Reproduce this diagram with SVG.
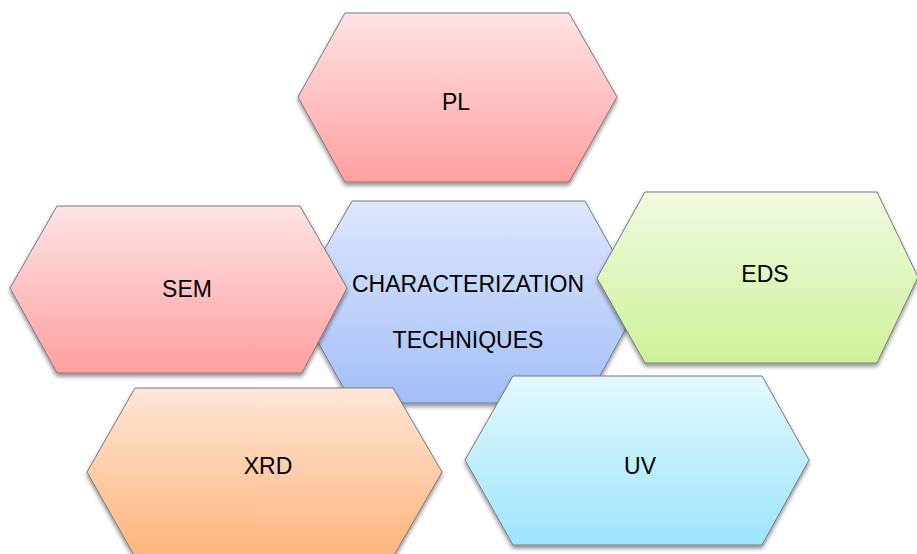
<svg xmlns="http://www.w3.org/2000/svg" width="917" height="554" viewBox="0 0 917 554">
  <style>
    .hex { stroke: #7a7a7a; stroke-width: 1; stroke-linejoin: miter; filter: url(#shadow); }
    .label { font-family: "Liberation Sans", Arial, sans-serif; font-size: 23px; fill: #000; text-anchor: middle; }
  </style>
  <defs>
    <filter id="shadow" x="-10%" y="-10%" width="120%" height="130%">
      <feGaussianBlur in="SourceAlpha" stdDeviation="2"/>
      <feOffset dx="0" dy="3" result="blur"/>
      <feComponentTransfer><feFuncA type="linear" slope="0.45"/></feComponentTransfer>
      <feMerge><feMergeNode/><feMergeNode in="SourceGraphic"/></feMerge>
    </filter>
    <linearGradient id="gRed" x1="0" y1="0" x2="0" y2="1">
      <stop offset="0" stop-color="#ffe3e4"/>
      <stop offset="1" stop-color="#ff9f9f"/>
    </linearGradient>
    <linearGradient id="gBlue" x1="0" y1="0" x2="0" y2="1">
      <stop offset="0" stop-color="#dde7fd"/>
      <stop offset="1" stop-color="#a3bff8"/>
    </linearGradient>
    <linearGradient id="gGreen" x1="0" y1="0" x2="0" y2="1">
      <stop offset="0" stop-color="#f1fbe0"/>
      <stop offset="1" stop-color="#cdf29a"/>
    </linearGradient>
    <linearGradient id="gOrange" x1="0" y1="0" x2="0" y2="1">
      <stop offset="0" stop-color="#ffe6d6"/>
      <stop offset="1" stop-color="#ffb47c"/>
    </linearGradient>
    <linearGradient id="gCyan" x1="0" y1="0" x2="0" y2="1">
      <stop offset="0" stop-color="#e4f9fe"/>
      <stop offset="1" stop-color="#9de5fb"/>
    </linearGradient>
  </defs>

  <rect width="917" height="554" fill="#ffffff"/>

  <!-- central hexagon -->
  <g id="center">
    <polygon class="hex" fill="url(#gBlue)" points="352,201 585,201 641,301 585,403 352,403 295,301"/>
    <text class="label" x="468" y="292">CHARACTERIZATION</text>
    <text class="label" x="468" y="348">TECHNIQUES</text>
  </g>

  <g id="pl">
    <polygon class="hex" fill="url(#gRed)" points="345,13 569,13 617,97 569,182 345,182 298,97"/>
    <text class="label" x="456" y="110">PL</text>
  </g>

  <g id="sem">
    <polygon class="hex" fill="url(#gRed)" points="57,206 300,206 347,288 302,373 57,373 10,288"/>
    <text class="label" x="187" y="297">SEM</text>
  </g>

  <g id="eds">
    <polygon class="hex" fill="url(#gGreen)" points="645,192 877,192 918,277 877,363 645,363 597,278"/>
    <text class="label" x="765" y="282">EDS</text>
  </g>

  <g id="xrd">
    <polygon class="hex" fill="url(#gOrange)" points="135,388 393,388 442,472 393,557 135,557 87,472"/>
    <text class="label" x="268" y="474">XRD</text>
  </g>

  <g id="uv">
    <polygon class="hex" fill="url(#gCyan)" points="513,376 762,376 809,460 762,545 513,545 465,460"/>
    <text class="label" x="640" y="474">UV</text>
  </g>

  <g id="connectors"/>
</svg>
